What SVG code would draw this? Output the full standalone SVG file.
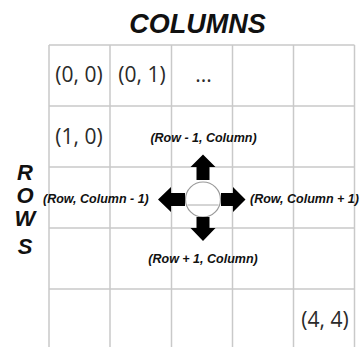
<svg xmlns="http://www.w3.org/2000/svg" width="360" height="347" viewBox="0 0 360 347">
<style>
.grid line{stroke:#c9c9c9;stroke-width:1.5}
.title{font-family:"Liberation Sans",Arial,sans-serif;font-weight:bold;font-style:italic;fill:#111}
.cell{font-family:"Open Sans","Liberation Sans",sans-serif;font-size:21px;fill:#2a2a2a}
.lbl{font-family:"Liberation Sans",Arial,sans-serif;font-weight:bold;font-style:italic;font-size:12.5px;fill:#111}
.arrow{fill:#000}
</style>
<rect width="360" height="347" fill="#fff"/>
<g id="grid" class="grid">
<line x1="49" y1="45" x2="49" y2="347"/>
<line x1="110" y1="45" x2="110" y2="347"/>
<line x1="171.5" y1="45" x2="171.5" y2="347"/>
<line x1="232.5" y1="45" x2="232.5" y2="347"/>
<line x1="293.5" y1="45" x2="293.5" y2="347"/>
<line x1="354.5" y1="45" x2="354.5" y2="347"/>
<line x1="49" y1="45" x2="354.5" y2="45"/>
<line x1="49" y1="106" x2="354.5" y2="106"/>
<line x1="49" y1="167" x2="354.5" y2="167"/>
<line x1="49" y1="228" x2="354.5" y2="228"/>
<line x1="49" y1="289" x2="354.5" y2="289"/>
</g>
<g id="title"><text class="title" x="197.5" y="33" font-size="27" text-anchor="middle">COLUMNS</text></g>
<g id="rows" class="title" font-size="22" text-anchor="middle">
<text x="25" y="180">R</text>
<text x="25" y="203">O</text>
<text x="25" y="226">W</text>
<text x="25" y="254">S</text>
</g>
<g id="cells">
<text class="cell" x="79" y="82" text-anchor="middle">(0, 0)</text>
<text class="cell" x="142" y="82" text-anchor="middle">(0, 1)</text>
<text class="cell" x="203.5" y="82" text-anchor="middle">...</text>
<text class="cell" x="79" y="144" text-anchor="middle">(1, 0)</text>
<text class="cell" x="325" y="327" text-anchor="middle">(4, 4)</text>
</g>
<g id="labels">
<text class="lbl" x="203.5" y="142" text-anchor="middle">(Row - 1, Column)</text>
<text class="lbl" x="43" y="203">(Row, Column - 1)</text>
<text class="lbl" x="250" y="203">(Row, Column + 1)</text>
<text class="lbl" x="203" y="263" text-anchor="middle">(Row + 1, Column)</text>
</g>
<g id="center">
<circle cx="203" cy="199.5" r="17.5" fill="#fff" stroke="#999" stroke-width="1.2"/>
<line x1="187.5" y1="205" x2="218.5" y2="205" stroke="#aaa" stroke-width="1"/>
</g>
<g id="arrows" class="arrow">
<polygon points="196.5,180 196.5,167 190.5,167 203,154.5 215.5,167 209.5,167 209.5,180"/>
<polygon points="196.5,217 196.5,228 190.5,228 203,241 215.5,228 209.5,228 209.5,217"/>
<polygon points="185,193 171,193 171,187 158,199.5 171,212 171,206 185,206"/>
<polygon points="221,193 233,193 233,187 245.5,199.5 233,212 233,206 221,206"/>
</g>
</svg>
